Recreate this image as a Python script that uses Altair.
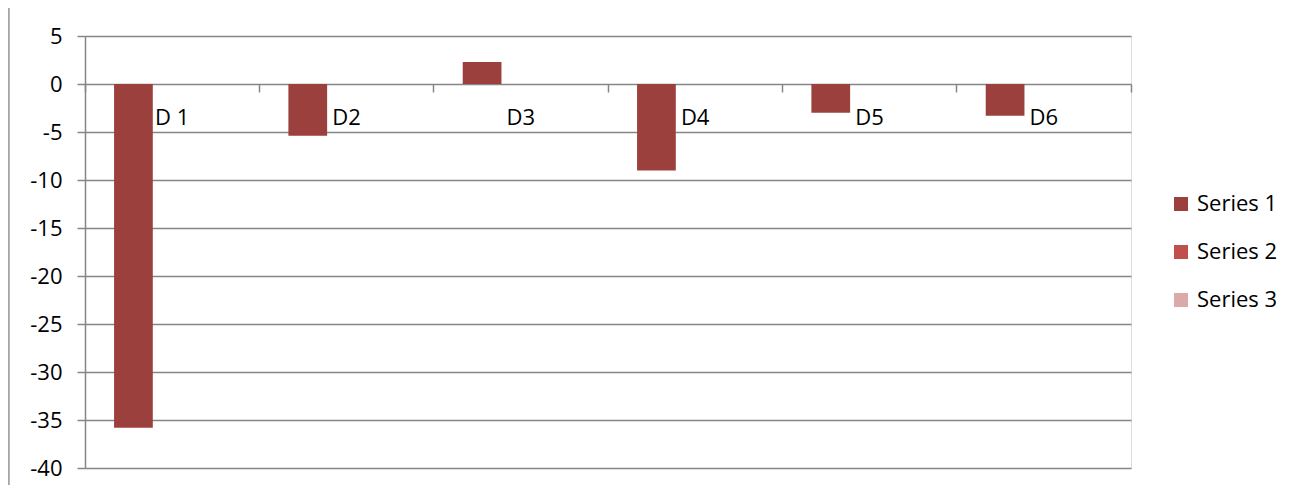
import altair as alt
import pandas as pd

categories = ["D 1", "D2", "D3", "D4", "D5", "D6"]
series_names = ["Series 1", "Series 2", "Series 3"]
series1 = [-35.8, -5.4, 2.3, -9.0, -3.0, -3.3]
series2 = [0, 0, 0, 0, 0, 0]
series3 = [0, 0, 0, 0, 0, 0]
y_ticks = [5, 0, -5, -10, -15, -20, -25, -30, -35, -40]
colors = ["#9C403D", "#C0504D", "#DBA9A8"]

rows = []
for name, vals in zip(series_names, [series1, series2, series3]):
    for c, v in zip(categories, vals):
        rows.append({"cat": c, "series": name, "value": v})
df = pd.DataFrame(rows)
cat_df = pd.DataFrame({"cat": categories})

FONT = "Open Sans"
GRID = "#868686"

x_enc = alt.X(
    "cat:N",
    sort=categories,
    scale=alt.Scale(paddingInner=0, paddingOuter=0),
    axis=alt.Axis(
        orient="bottom", offset=-384, labels=False, title=None, domain=False,
        ticks=True, tickSize=8, tickColor=GRID, tickWidth=1.5,
        bandPosition=1, tickExtra=True, grid=False,
    ),
)
y_scale = alt.Scale(domain=[-40, 5], nice=False, zero=False)

bars = alt.Chart(df).mark_bar().encode(
    x=x_enc,
    xOffset=alt.XOffset("series:N", sort=series_names,
                        scale=alt.Scale(paddingOuter=0.75, paddingInner=0)),
    y=alt.Y(
        "value:Q", stack=None, scale=y_scale,
        axis=alt.Axis(
            values=y_ticks, title=None, grid=True, gridColor=GRID, gridWidth=1.5,
            domain=True, domainColor=GRID, domainWidth=1.5,
            ticks=True, tickSize=8, tickColor=GRID, tickWidth=1.5,
            labelExpr="datum.value + ''",
            labelFont=FONT, labelFontSize=22, labelColor="#000000", labelPadding=15,
        ),
    ),
    color=alt.Color(
        "series:N", sort=series_names,
        scale=alt.Scale(domain=series_names, range=colors),
        legend=alt.Legend(
            title=None, orient="none", legendX=1085, legendY=157,
            symbolType="square", symbolSize=196, symbolStrokeWidth=0,
            labelFont=FONT, labelFontSize=22, labelColor="#000000",
            labelOffset=5, rowPadding=26,
        ),
    ),
)

labels = alt.Chart(cat_df).mark_text(
    font=FONT, fontSize=22, color="#000000", baseline="middle", dy=34
).encode(
    x=alt.X("cat:N", sort=categories),
    y=alt.datum(0),
    text="cat:N",
)

border = alt.Chart(cat_df).mark_rule(color="#a6a6a6", strokeWidth=1.5, clip=False).encode(
    x=alt.value(-76.5), y=alt.value(-28), y2=alt.value(460)
)

chart = alt.layer(bars, labels, border).properties(
    width=1046, height=432,
    autosize=alt.AutoSizeParams(type="none"),
    padding={"left": 77, "top": 28, "right": 160, "bottom": 17},
).configure_view(stroke=None).configure(background="white")

chart.save("out.html", embed_options={"renderer": "svg", "actions": False})
